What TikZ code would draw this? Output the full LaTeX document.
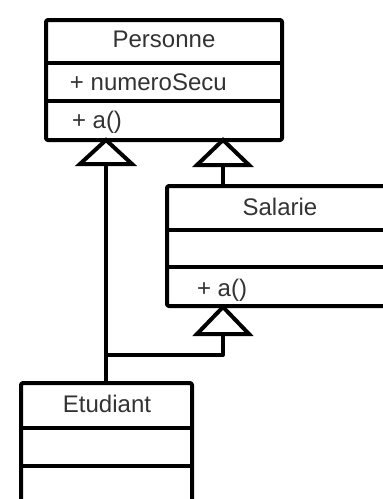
\documentclass[tikz,border=0pt]{standalone}
\usepackage{fontspec}
\setmainfont{Liberation Sans}
\begin{document}
\begin{tikzpicture}[x=1pt,y=-1pt, line width=4pt, line join=round,
  box/.style={draw, fill=white, rounded corners=2pt, inner sep=0pt, outer sep=0pt, anchor=north west},
  lbl/.style={font=\fontsize{24}{28}\selectfont, text=black!80, inner sep=0pt},
  tri/.style={draw, fill=white, line join=miter}]
\useasboundingbox (0,0) rectangle (383,499);
\clip (0,0) rectangle (383,499);
% connector coordinates
\coordinate (t1) at (106,164);
\coordinate (t2) at (223,165);
\coordinate (t3) at (223,334);
\coordinate (j) at (106,355);
% class boxes
\node[box, minimum width=236pt, minimum height=120pt] (P) at (46,20) {};
\node[box, minimum width=240pt, minimum height=120pt] (S) at (167,186) {};
\node[box, minimum width=171pt, minimum height=140pt] (E) at (21,383) {};
% connectors
\draw (t1) -- (t1 |- E.north);
\draw (t2) -- (t2 |- S.north);
\draw (t3) -- (t3 |- j) -- (j);
% separators
\draw (P.west |- 0,63) -- (P.east |- 0,63);
\draw (P.west |- 0,101) -- (P.east |- 0,101);
\draw (S.west |- 0,230) -- (S.east |- 0,230);
\draw (S.west |- 0,267) -- (S.east |- 0,267);
\draw (E.west |- 0,428) -- (E.east |- 0,428);
\draw (E.west |- 0,466) -- (E.east |- 0,466);
% generalization triangles
\draw[tri] (106,140) -- (132,164) -- (80,164) -- cycle;
\draw[tri] (223,140) -- (249,165) -- (197,165) -- cycle;
\draw[tri] (223,307) -- (249,334) -- (197,334) -- cycle;
% texts
\node[lbl, anchor=base] (Pn) at (164,47) {Personne};
\node[lbl, anchor=base west] (Pa) at (68,90) {+ numeroSecu};
\node[lbl, anchor=base west] (Pm) at (70,128) {+ a()};
\node[lbl, anchor=base] (Sn) at (280,215) {Salarie};
\node[lbl, anchor=base west] (Sm) at (195,296) {+ a()};
\node[lbl, anchor=base] (En) at (107,412) {Etudiant};
\end{tikzpicture}
\end{document}
